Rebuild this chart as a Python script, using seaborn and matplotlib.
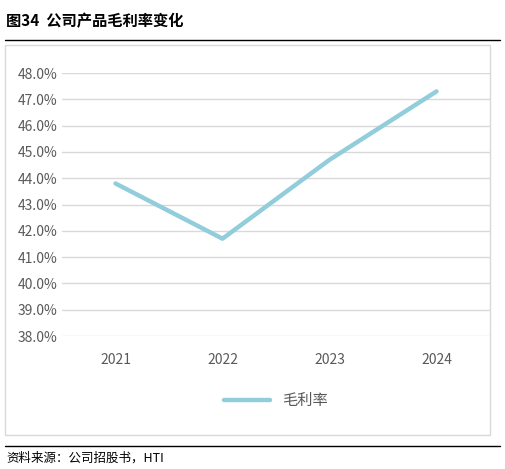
import matplotlib
matplotlib.use("Agg")
import matplotlib.pyplot as plt
import seaborn as sns
import pandas as pd
from matplotlib.patches import Rectangle
from matplotlib.lines import Line2D

years = ["2021", "2022", "2023", "2024"]
margin = [43.8, 41.7, 44.7, 47.3]
yticks = [38, 39, 40, 41, 42, 43, 44, 45, 46, 47, 48]

sns.set_theme(style="white")
plt.rcParams['font.family'] = ['Noto Sans CJK SC', 'DejaVu Sans']

W, H = 506, 469
fig = plt.figure(figsize=(W / 100, H / 100), dpi=100)
ax = fig.add_axes([62 / W, 1 - 336 / H, (490 - 62) / W, (336 - 73) / H])

df = pd.DataFrame({"year": years, "val": margin})
sns.lineplot(data=df, x="year", y="val", ax=ax, color="#92CDDC", linewidth=3.2,
             sort=False, label="毛利率")
ax.set_xlim(-0.5, 3.5)
ax.set_ylim(38, 48)
ax.set_yticks(yticks)
ax.set_yticklabels([f"{v:.1f}%" for v in yticks])
ax.yaxis.grid(True, color="#D9D9D9", linewidth=1)
ax.set_axisbelow(True)
for s in ax.spines.values():
    s.set_visible(False)
ax.tick_params(axis="both", length=0, labelsize=10, colors="#595959")
ax.tick_params(axis="x", pad=12)
ax.set_xlabel("")
ax.set_ylabel("")
ax.legend(loc="center", bbox_to_anchor=(0.5, -0.245), frameon=False, fontsize=11,
          handlelength=3, labelcolor="#595959")

# outer frame
fig.add_artist(Rectangle((5 / W, 1 - 435 / H), 485 / W, 390 / H, transform=fig.transFigure,
                         fill=False, edgecolor="#D9D9D9", linewidth=1))
# title and rules
fig.text(6 / W, 1 - 21 / H, "图34  公司产品毛利率变化", fontsize=11, fontweight="bold",
         va="center", ha="left", color="black")
fig.add_artist(Line2D([5 / W, 500 / W], [1 - 40 / H, 1 - 40 / H], color="black", linewidth=1))
fig.add_artist(Line2D([5 / W, 500 / W], [1 - 446 / H, 1 - 446 / H], color="black", linewidth=1))
fig.text(6 / W, 1 - 458 / H, "资料来源：公司招股书，HTI", fontsize=9, va="center", ha="left",
         color="black")

fig.savefig("out.png", dpi=100)
